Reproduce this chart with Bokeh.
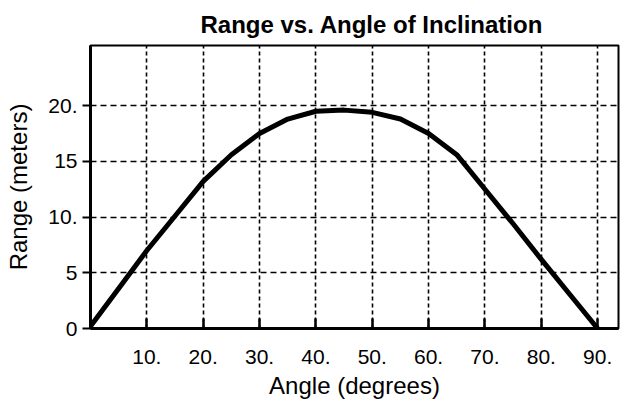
from bokeh.plotting import figure
from bokeh.models import Range1d, FixedTicker
from bokeh.embed import file_html
from bokeh.resources import INLINE

# data
angles = [0, 5, 10, 15, 20, 25, 30, 35, 40, 45, 50, 55, 60, 65, 70, 75, 80, 85, 90]
ranges_m = [0.2, 3.6, 7.0, 10.1, 13.2, 15.6, 17.5, 18.8, 19.5, 19.6, 19.4, 18.8, 17.5, 15.6, 12.5, 9.4, 6.2, 3.1, 0.0]
x_ticks = [10, 20, 30, 40, 50, 60, 70, 80, 90]
x_tick_labels = ["10.", "20.", "30.", "40.", "50.", "60.", "70.", "80.", "90."]
y_ticks = [0, 5, 10, 15, 20]
y_tick_labels = ["0", "5", "10.", "15", "20."]
y_grid_ticks = [5, 10, 15, 20]
x_title = "Angle (degrees)"
y_title = "Range (meters)"

FONT = "Liberation Sans"

p = figure(width=622, height=409, output_backend="svg", toolbar_location=None,
           x_range=Range1d(0, 93.7), y_range=Range1d(0, 25.4),
           min_border_left=90, min_border_top=44, min_border_bottom=81, min_border_right=4,
           background_fill_color="white", border_fill_color="white")

p.title.text = "Range vs. Angle of Inclination"
p.title.text_font = FONT
p.title.text_font_size = "24px"
p.title.text_font_style = "bold"
p.title.text_color = "black"
p.title.align = "left"
p.title.offset = 110
p.title.vertical_align = "bottom"
p.title.standoff = 16

p.outline_line_color = "black"
p.outline_line_width = 2
p.outline_line_alpha = 1

# grids
p.xgrid.ticker = FixedTicker(ticks=x_ticks)
p.ygrid.ticker = FixedTicker(ticks=y_grid_ticks)
p.xgrid.grid_line_color = "black"
p.xgrid.grid_line_width = 1.6
p.xgrid.grid_line_dash = "4 3"
p.ygrid.grid_line_color = "black"
p.ygrid.grid_line_width = 1.6
p.ygrid.grid_line_dash = "6 4"

# x axis
xa = p.xaxis[0]
xa.ticker = FixedTicker(ticks=x_ticks)
xa.major_label_overrides = dict(zip(x_ticks, x_tick_labels))
xa.minor_tick_line_color = None
xa.major_tick_in = 10
xa.major_tick_out = 0
xa.major_tick_line_width = 2.5
xa.major_tick_line_color = "black"
xa.axis_line_width = 3
xa.axis_line_color = "black"
xa.major_label_text_font = FONT
xa.major_label_text_font_size = "21px"
xa.major_label_text_color = "black"
xa.major_label_standoff = 21
xa.axis_label = x_title
xa.axis_label_text_font = FONT
xa.axis_label_text_font_size = "24px"
xa.axis_label_text_font_style = "normal"
xa.axis_label_text_color = "black"
xa.axis_label_standoff = 5

# y axis
ya = p.yaxis[0]
ya.ticker = FixedTicker(ticks=y_ticks)
ya.major_label_overrides = dict(zip(y_ticks, y_tick_labels))
ya.minor_tick_line_color = None
ya.major_tick_in = 0
ya.major_tick_out = 8
ya.major_tick_line_width = 2
ya.major_tick_line_color = "black"
ya.axis_line_width = 3
ya.axis_line_color = "black"
ya.major_label_text_font = FONT
ya.major_label_text_font_size = "21px"
ya.major_label_text_color = "black"
ya.major_label_standoff = 5
ya.major_label_orientation = "horizontal"
ya.axis_label = y_title
ya.axis_label_text_font = FONT
ya.axis_label_text_font_size = "24px"
ya.axis_label_text_font_style = "normal"
ya.axis_label_text_color = "black"
ya.axis_label_standoff = 13

# curve
p.line(angles, ranges_m, line_color="black", line_width=5, line_join="round", line_cap="round")

open("out.html", "w").write(file_html(p, INLINE))
